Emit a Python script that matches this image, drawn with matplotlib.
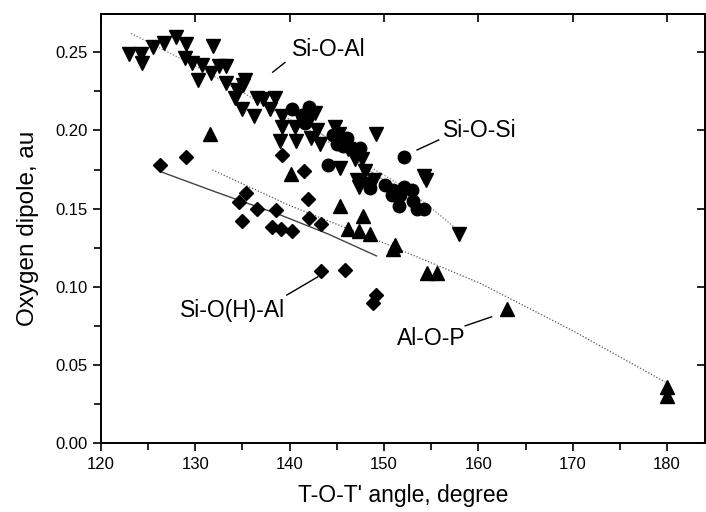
import numpy as np
import matplotlib
matplotlib.use('Agg')
import matplotlib.pyplot as plt
from matplotlib.ticker import MultipleLocator

plt.rcParams['font.family'] = ['Liberation Sans', 'DejaVu Sans']

#  ----------------------- DATA ----------------------------------

# Si-O-Al  (down triangles)
sioal_x = [123.0, 124.2, 124.4, 125.5, 126.7, 128.0, 129.0, 131.9, 128.9, 129.7,
           130.7, 130.3, 131.7, 132.5, 133.2, 133.3, 134.4, 135.3, 135.1, 134.2,
           135.0, 136.2, 136.5, 137.2, 137.9, 138.4, 139.2, 139.2, 139.0, 140.6,
           140.7, 142.7, 142.9, 142.3, 143.2, 144.8, 145.2, 146.2, 145.3, 149.2,
           146.9, 147.7, 148.0, 147.1, 147.3, 148.2, 148.9, 154.2, 154.5, 157.9]
sioal_y = [0.249, 0.249, 0.243, 0.253, 0.256, 0.260, 0.255, 0.254, 0.246, 0.243,
           0.242, 0.232, 0.237, 0.241, 0.241, 0.230, 0.226, 0.232, 0.229, 0.221,
           0.214, 0.209, 0.221, 0.220, 0.214, 0.221, 0.209, 0.202, 0.193, 0.202,
           0.193, 0.211, 0.200, 0.195, 0.191, 0.202, 0.198, 0.188, 0.176, 0.198,
           0.182, 0.182, 0.174, 0.168, 0.164, 0.166, 0.168, 0.171, 0.168, 0.134]

# Si-O-Si  (circles)
siosi_x = [140.3, 142.1, 141.3, 141.8, 141.6, 142.2, 144.6, 145.0, 146.1, 145.7,
           146.6, 147.5, 144.1, 148.5, 150.1, 151.0, 152.1, 150.8, 151.7, 152.1,
           151.6, 153.1, 153.5, 154.2, 153.0]
siosi_y = [0.214, 0.215, 0.210, 0.208, 0.205, 0.211, 0.197, 0.191, 0.195, 0.190,
           0.189, 0.189, 0.178, 0.163, 0.165, 0.162, 0.164, 0.159, 0.159, 0.183,
           0.152, 0.155, 0.150, 0.150, 0.162]

# Si-O(H)-Al  (diamonds)
siohal_x = [126.3, 129.0, 139.2, 141.5, 135.4, 134.6, 136.5, 138.6, 135.0, 138.1,
            139.1, 140.3, 141.9, 142.1, 143.3, 143.3, 145.9, 149.2, 148.8]
siohal_y = [0.178, 0.183, 0.184, 0.174, 0.160, 0.154, 0.150, 0.149, 0.142, 0.138,
            0.137, 0.136, 0.156, 0.144, 0.140, 0.110, 0.111, 0.095, 0.090]

# Al-O-P  (up triangles)
alop_x = [131.6, 140.1, 145.3, 147.8, 146.2, 147.3, 148.5, 151.2, 150.9, 154.6,
          155.6, 163.0, 180.0, 180.0]
alop_y = [0.198, 0.172, 0.152, 0.145, 0.137, 0.136, 0.134, 0.127, 0.124, 0.109,
          0.109, 0.086, 0.036, 0.030]

# fit curves
fit_sioal_x = [123.2, 131.0, 139.0, 142.5, 147.6, 151.4, 154.5, 157.8]
fit_sioal_y = [0.262, 0.238, 0.2105, 0.1985, 0.180, 0.1664, 0.153, 0.1364]
fit_siosi_x = [140.5, 144.0, 147.6, 150.0, 152.8]
fit_siosi_y = [0.210, 0.195, 0.178, 0.168, 0.1575]
fit_siohal_x = [126.3, 132.0, 139.0, 144.0, 149.2]
fit_siohal_y = [0.1737, 0.161, 0.146, 0.134, 0.1198]
fit_alop_x = [131.8, 140.0, 150.0, 160.2, 170.0, 179.8]
fit_alop_y = [0.1748, 0.152, 0.128, 0.1023, 0.072, 0.0392]

# labels: text, text position (left, centre), leader start, leader end
labels = ['Si-O-Al', 'Si-O-Si', 'Si-O(H)-Al', 'Al-O-P']
label_pos = [(140.2, 0.2515), (156.3, 0.2001), (128.4, 0.0852), (151.4, 0.0671)]
leader_a = [(138.2, 0.2372), (153.5, 0.1875), (139.7, 0.0948), (158.6, 0.0751)]
leader_b = [(139.5, 0.2434), (155.8, 0.1939), (143.0, 0.1065), (161.4, 0.0809)]

#  ----------------------- PLOT ----------------------------------

fig = plt.figure(figsize=(7.06, 5.12), dpi=100)
ax = fig.add_axes([0.143, 0.134, 0.856, 0.839])

ax.plot(fit_sioal_x, fit_sioal_y, color='#777777', lw=0.9, ls=(0, (1, 1.5)))
ax.plot(fit_siosi_x, fit_siosi_y, color='#999999', lw=0.9)
ax.plot(fit_siohal_x, fit_siohal_y, color='#444444', lw=1.0)
ax.plot(fit_alop_x, fit_alop_y, color='#555555', lw=0.9, ls=(0, (1, 1.5)))

ax.plot(sioal_x, sioal_y, 'v', color='black', ms=9.5, ls='none')
ax.plot(siosi_x, siosi_y, 'o', color='black', ms=9, ls='none')
ax.plot(siohal_x, siohal_y, 'D', color='black', ms=7, ls='none')
ax.plot(alop_x, alop_y, '^', color='black', ms=9.5, ls='none')

for i, lab in enumerate(labels):
    ax.text(label_pos[i][0], label_pos[i][1], lab, fontsize=16.5, va='center', ha='left')
    ax.plot([leader_a[i][0], leader_b[i][0]], [leader_a[i][1], leader_b[i][1]],
            color='black', lw=1.0)

ax.set_xlim(120, 184.05)
ax.set_ylim(0, 0.2745)
ax.xaxis.set_major_locator(MultipleLocator(10))
ax.xaxis.set_minor_locator(MultipleLocator(5))
ax.yaxis.set_major_locator(MultipleLocator(0.05))
ax.yaxis.set_minor_locator(MultipleLocator(0.025))
ax.yaxis.set_major_formatter(matplotlib.ticker.FormatStrFormatter('%.2f'))

ax.tick_params(which='both', direction='out', top=False, right=False, width=1.2,
               labelsize=12)
ax.tick_params(which='major', length=6)
ax.tick_params(which='minor', length=5)

# inward major ticks on top and right
sec_x = ax.secondary_xaxis('top')
sec_x.xaxis.set_major_locator(MultipleLocator(10))
sec_x.tick_params(direction='in', length=6, width=1.2, labeltop=False)
sec_y = ax.secondary_yaxis('right')
sec_y.yaxis.set_major_locator(MultipleLocator(0.05))
sec_y.tick_params(direction='in', length=6, width=1.2, labelright=False)

for s in ax.spines.values():
    s.set_linewidth(1.4)
sec_x.spines['top'].set_linewidth(1.4)
sec_y.spines['right'].set_linewidth(1.4)

ax.set_xlabel("T-O-T' angle, degree", fontsize=16.5, labelpad=9)
ax.set_ylabel('Oxygen dipole, au', fontsize=17.5, labelpad=12)

plt.savefig('out.png', dpi=100)
